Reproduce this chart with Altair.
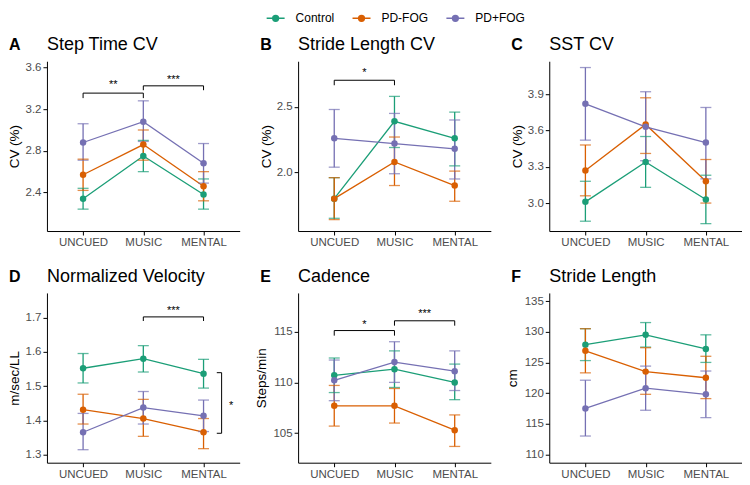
import json
import altair as alt
import pandas as pd

FONT = "Liberation Sans"

conditions = ["UNCUED", "MUSIC", "MENTAL"]
groups = ["Control", "PD-FOG", "PD+FOG"]
group_colors = ["#1B9E77", "#D95F02", "#7570B3"]

# ---- A: Step Time CV ----
step_time_mean = {"Control": [2.34, 2.75, 2.38], "PD-FOG": [2.57, 2.86, 2.46], "PD+FOG": [2.88, 3.08, 2.68]}
step_time_lo = {"Control": [2.24, 2.60, 2.24], "PD-FOG": [2.42, 2.71, 2.32], "PD+FOG": [2.71, 2.89, 2.49]}
step_time_hi = {"Control": [2.44, 2.90, 2.53], "PD-FOG": [2.72, 3.00, 2.60], "PD+FOG": [3.06, 3.28, 2.87]}

# ---- B: Stride Length CV ----
sl_cv_mean = {"Control": [1.80, 2.39, 2.26], "PD-FOG": [1.80, 2.08, 1.90], "PD+FOG": [2.26, 2.22, 2.18]}
sl_cv_lo = {"Control": [1.65, 2.19, 2.05], "PD-FOG": [1.64, 1.90, 1.78], "PD+FOG": [2.04, 1.99, 1.95]}
sl_cv_hi = {"Control": [1.96, 2.58, 2.46], "PD-FOG": [1.96, 2.27, 2.01], "PD+FOG": [2.48, 2.45, 2.40]}

# ---- C: SST CV ----
sst_mean = {"Control": [3.01, 3.34, 3.03], "PD-FOG": [3.27, 3.65, 3.18], "PD+FOG": [3.82, 3.63, 3.50]}
sst_lo = {"Control": [2.85, 3.13, 2.83], "PD-FOG": [3.06, 3.41, 3.00], "PD+FOG": [3.52, 3.35, 3.20]}
sst_hi = {"Control": [3.18, 3.55, 3.23], "PD-FOG": [3.48, 3.87, 3.36], "PD+FOG": [4.12, 3.92, 3.79]}

# ---- D: Normalized Velocity ----
vel_mean = {"Control": [1.552, 1.580, 1.536], "PD-FOG": [1.431, 1.405, 1.365], "PD+FOG": [1.365, 1.437, 1.413]}
vel_lo = {"Control": [1.509, 1.541, 1.494], "PD-FOG": [1.389, 1.353, 1.317], "PD+FOG": [1.314, 1.389, 1.367]}
vel_hi = {"Control": [1.595, 1.618, 1.578], "PD-FOG": [1.476, 1.461, 1.405], "PD+FOG": [1.420, 1.484, 1.459]}

# ---- E: Cadence ----
cad_mean = {"Control": [110.7, 111.3, 110.0], "PD-FOG": [107.7, 107.7, 105.3], "PD+FOG": [110.2, 112.0, 111.1]}
cad_lo = {"Control": [109.0, 109.5, 108.3], "PD-FOG": [105.7, 106.0, 103.7], "PD+FOG": [108.2, 110.0, 109.2]}
cad_hi = {"Control": [112.4, 113.1, 111.8], "PD-FOG": [109.7, 109.4, 106.8], "PD+FOG": [112.2, 114.0, 113.1]}

# ---- F: Stride Length ----
sl_mean = {"Control": [127.9, 129.5, 127.2], "PD-FOG": [126.9, 123.5, 122.5], "PD+FOG": [117.5, 120.8, 119.8]}
sl_lo = {"Control": [125.3, 127.5, 125.0], "PD-FOG": [123.3, 119.8, 119.1], "PD+FOG": [113.0, 117.2, 116.0]}
sl_hi = {"Control": [130.5, 131.5, 129.5], "PD-FOG": [130.5, 127.4, 126.0], "PD+FOG": [122.1, 124.4, 123.6]}

# y axis tick labels / domains
ticks_A = [2.4, 2.8, 3.2, 3.6]
ticks_B = [2.0, 2.5]
ticks_C = [3.0, 3.3, 3.6, 3.9]
ticks_D = [1.3, 1.4, 1.5, 1.6, 1.7]
ticks_E = [105, 110, 115]
ticks_F = [110, 115, 120, 125, 130, 135]

# significance brackets: (from cond, to cond, bar y, tick end y, label, label y)
brackets_A = [(1, 2, 3.354, 3.306, "**", 3.456), (2, 3, 3.424, 3.382, "***", 3.51)]
brackets_B = [(1, 2, 2.703, 2.665, "*", 2.78)]
brackets_C = []
brackets_D = [(2, 3, 1.702, 1.690, "***", 1.729)]
brackets_E = [(1, 2, 115.1, 114.6, "*", 115.97), (2, 3, 116.06, 115.58, "***", 117.03)]
brackets_F = []
# vertical (group) bracket: (line x, tick x, y top, y bottom, label, label x, label y)
vbrackets_D = [(3.3, 3.22, 1.539, 1.362, "*", 3.46, 1.451)]

label_expr = json.dumps(conditions) + "[datum.value - 1]"

W, H = 193, 170


def make_panel(letter, title, ytitle, mean, lo, hi, domain, ticks, fmt,
               brackets, vbrackets, extent):
    rows = []
    for g in groups:
        for i, c in enumerate(conditions):
            rows.append({"group": g, "cond": c, "xi": i + 1,
                         "mean": mean[g][i], "lo": lo[g][i], "hi": hi[g][i]})
    df = pd.DataFrame(rows)

    xs = alt.Scale(domain=[0.4, 3.6], nice=False, zero=False)
    xax = alt.Axis(values=[1, 2, 3], labelExpr=label_expr, title=None)
    ys = alt.Scale(domain=domain, nice=False, zero=False)
    yax = alt.Axis(values=ticks, format=fmt, title=ytitle,
                   minExtent=extent, maxExtent=extent, titlePadding=4)

    def X(f):
        return alt.X(f, type="quantitative", scale=xs, axis=xax)

    def Y(f):
        return alt.Y(f, type="quantitative", scale=ys, axis=yax)

    col_nolegend = alt.Color("group:N", scale=alt.Scale(domain=groups, range=group_colors), legend=None)
    col_legend = alt.Color(
        "group:N", scale=alt.Scale(domain=groups, range=group_colors),
        legend=alt.Legend(
            title=None, orient="none", direction="horizontal",
            legendX=219, legendY=-53,
            symbolType="M-1,0L1,0M-0.08,0A0.08,0.08 0 1,0 0.08,0A0.08,0.08 0 1,0 -0.08,0"
                       "M-0.16,0A0.16,0.16 0 1,0 0.16,0A0.16,0.16 0 1,0 -0.16,0"
                       "M-0.24,0A0.24,0.24 0 1,0 0.24,0A0.24,0.24 0 1,0 -0.24,0"
                       "M-0.32,0A0.32,0.32 0 1,0 0.32,0A0.32,0.32 0 1,0 -0.32,0",
            symbolSize=324, symbolStrokeWidth=1.5, labelOffset=10, columnPadding=15,
            labelFontSize=12, labelFont=FONT, labelColor="black"))

    base = alt.Chart(df)
    lines = base.mark_line(strokeWidth=1.3).encode(x=X("xi"), y=Y("mean"), color=col_legend)
    bars = base.mark_rule(strokeWidth=1.3).encode(x=X("xi"), y=Y("lo"), y2="hi", color=col_nolegend)
    cap_lo = base.mark_tick(orient="horizontal", size=11, thickness=1.3).encode(
        x=X("xi"), y=Y("lo"), color=col_nolegend)
    cap_hi = base.mark_tick(orient="horizontal", size=11, thickness=1.3).encode(
        x=X("xi"), y=Y("hi"), color=col_nolegend)
    pts = base.mark_circle(size=42, opacity=1).encode(x=X("xi"), y=Y("mean"), color=col_nolegend)

    layers = [lines, bars, cap_lo, cap_hi, pts]

    segs, stars = [], []
    for (a, b, yb, yt, lab, ly) in brackets:
        segs += [(a, b, yb, yb), (a, a, yt, yb), (b, b, yt, yb)]
        stars.append(((a + b) / 2, ly, lab))
    for (xl, xt, ytop, ybot, lab, lx, ly) in vbrackets:
        segs += [(xl, xl, ybot, ytop), (xt, xl, ytop, ytop), (xt, xl, ybot, ybot)]
        stars.append((lx, ly, lab))
    if segs:
        sdf = pd.DataFrame(segs, columns=["x", "x2", "y", "y2"])
        layers.append(alt.Chart(sdf).mark_rule(color="black", strokeWidth=1).encode(
            x=X("x"), x2="x2", y=Y("y"), y2="y2"))
        tdf = pd.DataFrame(stars, columns=["x", "y", "label"])
        layers.append(alt.Chart(tdf).mark_text(
            fontSize=11, font=FONT, color="black", baseline="alphabetic", dy=6).encode(
            x=X("x"), y=Y("y"), text="label:N"))

    hdf = pd.DataFrame({"letter": [letter], "name": [title]})
    layers.append(alt.Chart(hdf).mark_text(
        align="left", baseline="alphabetic", fontSize=16, fontWeight="bold",
        font=FONT, color="black").encode(
        x=alt.value(-38), y=alt.value(-11), text="letter:N"))
    layers.append(alt.Chart(hdf).mark_text(
        align="left", baseline="alphabetic", fontSize=18, fontWeight="normal",
        font=FONT, color="black").encode(
        x=alt.value(0), y=alt.value(-11), text="name:N"))

    return alt.layer(*layers).properties(width=W, height=H)


pA = make_panel("A", "Step Time CV", "CV (%)", step_time_mean, step_time_lo, step_time_hi,
                [2.03, 3.66], ticks_A, ".1f", brackets_A, [], 21)
pB = make_panel("B", "Stride Length CV", "CV (%)", sl_cv_mean, sl_cv_lo, sl_cv_hi,
                [1.553, 2.848], ticks_B, ".1f", brackets_B, [], 21)
pC = make_panel("C", "SST CV", "CV (%)", sst_mean, sst_lo, sst_hi,
                [2.769, 4.172], ticks_C, ".1f", brackets_C, [], 21)
pD = make_panel("D", "Normalized Velocity", "m/sec/LL", vel_mean, vel_lo, vel_hi,
                [1.276, 1.772], ticks_D, ".1f", brackets_D, vbrackets_D, 21)
pE = make_panel("E", "Cadence", "Steps/min", cad_mean, cad_lo, cad_hi,
                [102.1, 118.8], ticks_E, "d", brackets_E, [], 26)
pF = make_panel("F", "Stride Length", "cm", sl_mean, sl_lo, sl_hi,
                [108.65, 136.33], ticks_F, "d", brackets_F, [], 26)

chart = alt.concat(pA, pB, pC, pD, pE, pF, columns=3,
                   spacing=alt.RowColnumber(row=62, column=58.5),
                   bounds="flush").properties(padding=0).configure_view(
    stroke=None).configure_axis(
    grid=False, domainColor="black", domainWidth=1, tickColor="black", tickSize=4,
    tickWidth=1, labelColor="#4D4D4D", labelFont=FONT, labelFontSize=11.5, labelPadding=2,
    titleFont=FONT, titleFontSize=13.5, titleFontWeight="normal", titleColor="black"
).configure_axisX(labelAngle=0)

chart.save("out.html", embed_options={"renderer": "svg", "actions": False})
